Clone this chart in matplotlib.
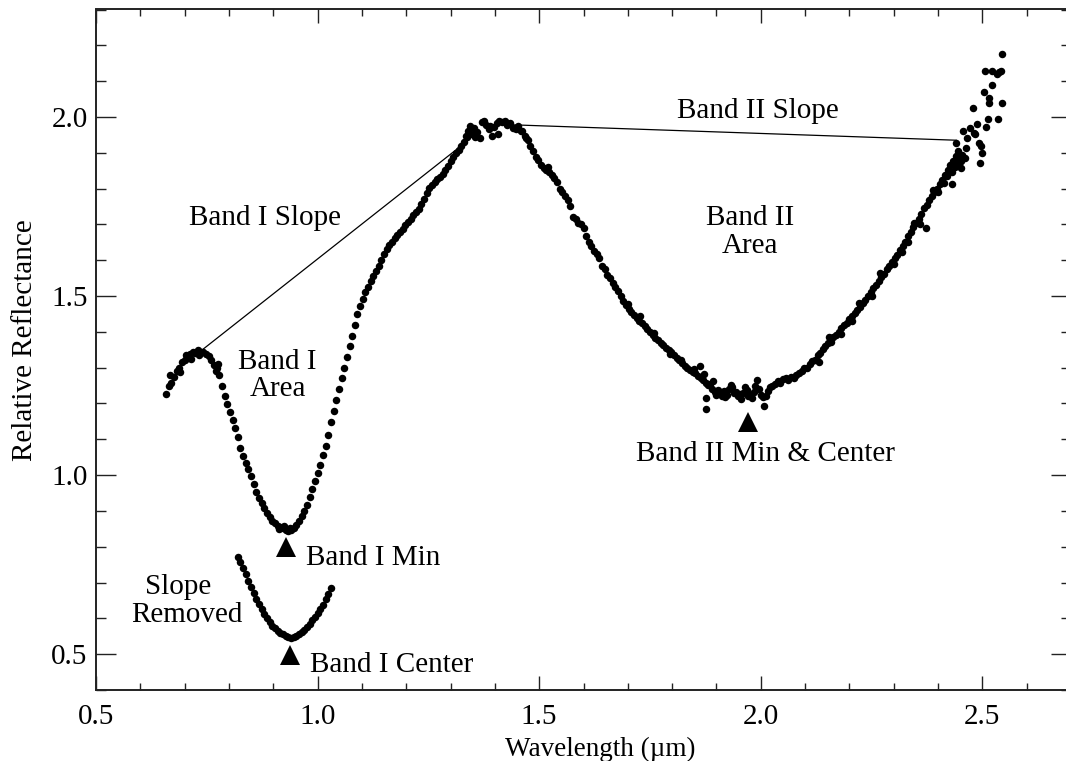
import matplotlib
matplotlib.use("Agg")
from matplotlib import pyplot as plt
from matplotlib.ticker import MultipleLocator

plt.rcParams['font.family'] = ['Liberation Serif', 'DejaVu Serif']

# (wavelength um, relative reflectance) read segment by segment
bump = [(0.658, 1.226), (0.664, 1.250), (0.668, 1.280), (0.670, 1.258), (0.676, 1.275),
        (0.682, 1.290), (0.688, 1.300), (0.690, 1.288), (0.694, 1.315), (0.700, 1.322),
        (0.702, 1.336), (0.706, 1.332), (0.712, 1.338), (0.714, 1.325), (0.718, 1.345),
        (0.724, 1.342), (0.730, 1.348), (0.732, 1.335), (0.736, 1.343), (0.742, 1.345),
        (0.748, 1.338), (0.754, 1.332), (0.760, 1.320), (0.766, 1.308), (0.770, 1.292),
        (0.772, 1.298), (0.776, 1.310), (0.778, 1.280)]

band1_down = [(0.784, 1.250), (0.790, 1.222), (0.796, 1.198), (0.802, 1.177), (0.808, 1.155),
              (0.814, 1.131), (0.820, 1.105), (0.826, 1.077), (0.832, 1.052), (0.838, 1.035),
              (0.844, 1.017), (0.850, 0.997), (0.856, 0.974), (0.862, 0.952), (0.868, 0.937),
              (0.874, 0.922), (0.880, 0.909), (0.886, 0.895), (0.892, 0.883), (0.898, 0.872),
              (0.904, 0.865), (0.910, 0.858), (0.913, 0.850), (0.916, 0.855), (0.922, 0.852),
              (0.925, 0.858), (0.928, 0.848), (0.934, 0.845), (0.937, 0.852), (0.940, 0.848),
              (0.946, 0.852)]

band1_up = [(0.952, 0.860), (0.958, 0.872), (0.964, 0.885), (0.970, 0.899), (0.976, 0.916),
            (0.982, 0.938), (0.988, 0.961), (0.994, 0.983), (1.000, 1.005), (1.006, 1.028),
            (1.012, 1.055), (1.018, 1.082), (1.024, 1.113), (1.030, 1.148), (1.036, 1.180),
            (1.042, 1.210), (1.048, 1.240), (1.054, 1.270), (1.060, 1.300), (1.066, 1.330),
            (1.072, 1.360), (1.078, 1.389), (1.084, 1.419), (1.090, 1.449), (1.096, 1.472),
            (1.102, 1.492), (1.108, 1.511), (1.114, 1.526), (1.120, 1.541), (1.126, 1.556),
            (1.132, 1.570), (1.138, 1.585), (1.144, 1.601), (1.150, 1.616), (1.156, 1.630),
            (1.162, 1.642), (1.168, 1.652), (1.174, 1.661), (1.180, 1.670), (1.186, 1.679),
            (1.192, 1.688), (1.198, 1.697), (1.204, 1.706), (1.210, 1.715), (1.216, 1.725),
            (1.222, 1.735), (1.228, 1.744), (1.234, 1.757), (1.240, 1.772), (1.246, 1.787),
            (1.252, 1.801), (1.258, 1.810), (1.264, 1.818), (1.270, 1.826), (1.276, 1.833),
            (1.282, 1.840), (1.288, 1.852), (1.294, 1.864), (1.300, 1.876), (1.306, 1.888),
            (1.312, 1.898), (1.318, 1.908), (1.324, 1.918), (1.330, 1.930), (1.336, 1.945)]

peak = [(1.335, 1.947), (1.340, 1.962), (1.343, 1.975), (1.346, 1.952), (1.352, 1.968),
        (1.356, 1.945), (1.360, 1.958), (1.366, 1.942), (1.372, 1.985), (1.376, 1.990),
        (1.380, 1.978), (1.386, 1.965), (1.390, 1.975), (1.394, 1.948), (1.398, 1.972),
        (1.404, 1.982), (1.406, 1.952), (1.410, 1.988), (1.416, 1.985), (1.422, 1.990),
        (1.428, 1.978), (1.434, 1.983), (1.440, 1.970), (1.448, 1.966), (1.452, 1.975),
        (1.458, 1.962)]

band2_down = [(1.462, 1.960), (1.468, 1.948), (1.470, 1.942), (1.474, 1.935), (1.480, 1.920),
              (1.486, 1.905), (1.492, 1.888), (1.498, 1.880), (1.504, 1.866), (1.510, 1.858),
              (1.516, 1.852), (1.520, 1.860), (1.522, 1.845), (1.528, 1.838), (1.534, 1.830),
              (1.540, 1.818), (1.546, 1.798), (1.552, 1.790), (1.558, 1.778), (1.564, 1.768),
              (1.570, 1.750), (1.576, 1.722), (1.582, 1.715), (1.588, 1.705), (1.594, 1.700),
              (1.600, 1.690), (1.606, 1.668), (1.612, 1.652), (1.618, 1.640), (1.624, 1.625),
              (1.630, 1.618), (1.636, 1.605), (1.642, 1.585), (1.648, 1.575), (1.654, 1.560),
              (1.660, 1.550), (1.666, 1.535), (1.672, 1.525), (1.678, 1.515), (1.684, 1.500),
              (1.690, 1.486), (1.696, 1.475), (1.700, 1.478), (1.702, 1.465), (1.708, 1.455),
              (1.714, 1.447), (1.720, 1.440), (1.726, 1.430), (1.728, 1.444), (1.732, 1.424),
              (1.738, 1.416), (1.744, 1.408), (1.750, 1.400), (1.756, 1.390), (1.760, 1.398),
              (1.762, 1.383), (1.768, 1.376), (1.774, 1.370), (1.780, 1.362), (1.786, 1.356),
              (1.792, 1.349), (1.795, 1.338), (1.798, 1.343), (1.804, 1.334), (1.810, 1.328),
              (1.816, 1.320), (1.820, 1.322), (1.822, 1.312), (1.828, 1.306), (1.834, 1.300),
              (1.840, 1.294), (1.846, 1.288), (1.850, 1.295), (1.852, 1.284), (1.858, 1.276),
              (1.862, 1.306), (1.864, 1.272), (1.870, 1.266), (1.872, 1.282), (1.876, 1.258),
              (1.877, 1.216), (1.877, 1.184), (1.882, 1.252)]

band2_floor = [(1.886, 1.255), (1.890, 1.240), (1.892, 1.262), (1.896, 1.232), (1.900, 1.225),
               (1.904, 1.238), (1.908, 1.228), (1.912, 1.222), (1.916, 1.236), (1.920, 1.218),
               (1.924, 1.225), (1.928, 1.240), (1.932, 1.252), (1.936, 1.245), (1.940, 1.228),
               (1.944, 1.232), (1.948, 1.220), (1.952, 1.226), (1.956, 1.212), (1.960, 1.230),
               (1.964, 1.245), (1.968, 1.238), (1.972, 1.220), (1.976, 1.225), (1.980, 1.215),
               (1.984, 1.232), (1.988, 1.250), (1.992, 1.266), (1.996, 1.240), (2.000, 1.225),
               (2.004, 1.218), (2.008, 1.192), (2.012, 1.222), (2.016, 1.235), (2.020, 1.245),
               (2.026, 1.250), (2.032, 1.255), (2.038, 1.262), (2.044, 1.258), (2.050, 1.268),
               (2.056, 1.272), (2.062, 1.265), (2.068, 1.275), (2.074, 1.270), (2.080, 1.280),
               (2.086, 1.285), (2.092, 1.290), (2.098, 1.300), (2.104, 1.298), (2.110, 1.310)]

band2_up = [(2.116, 1.318), (2.122, 1.322), (2.128, 1.335), (2.131, 1.315), (2.134, 1.340),
            (2.140, 1.352), (2.146, 1.360), (2.152, 1.368), (2.155, 1.385), (2.158, 1.372),
            (2.164, 1.385), (2.170, 1.392), (2.176, 1.400), (2.180, 1.395), (2.182, 1.410),
            (2.188, 1.418), (2.194, 1.425), (2.200, 1.436), (2.205, 1.430), (2.206, 1.445),
            (2.212, 1.452), (2.218, 1.462), (2.222, 1.480), (2.224, 1.470), (2.230, 1.480),
            (2.236, 1.490), (2.242, 1.500), (2.248, 1.512), (2.250, 1.500), (2.254, 1.522),
            (2.260, 1.530), (2.266, 1.542), (2.270, 1.565), (2.272, 1.552), (2.278, 1.562),
            (2.284, 1.575), (2.290, 1.585), (2.296, 1.595), (2.300, 1.590), (2.302, 1.605),
            (2.308, 1.615), (2.314, 1.628), (2.318, 1.622), (2.320, 1.640), (2.326, 1.652),
            (2.332, 1.668), (2.333, 1.650), (2.338, 1.680), (2.344, 1.692), (2.346, 1.705),
            (2.350, 1.705), (2.356, 1.715), (2.360, 1.700), (2.362, 1.730), (2.368, 1.745),
            (2.372, 1.691), (2.374, 1.755), (2.380, 1.768), (2.386, 1.778), (2.388, 1.795),
            (2.392, 1.790), (2.398, 1.800), (2.400, 1.790), (2.404, 1.812), (2.410, 1.825),
            (2.414, 1.815), (2.416, 1.838), (2.420, 1.835), (2.422, 1.852), (2.428, 1.865),
            (2.431, 1.812), (2.432, 1.845), (2.434, 1.878), (2.438, 1.860), (2.440, 1.890),
            (2.441, 1.928), (2.444, 1.880), (2.446, 1.905), (2.447, 1.868)]

red_tail = [(2.451, 1.877), (2.451, 1.858), (2.454, 1.895), (2.456, 1.961), (2.460, 1.885),
            (2.463, 1.914), (2.466, 1.942), (2.473, 1.970), (2.478, 2.026), (2.481, 1.956),
            (2.484, 1.952), (2.488, 1.980), (2.493, 1.928), (2.494, 1.872), (2.496, 1.919),
            (2.500, 1.900), (2.503, 2.070), (2.506, 2.128), (2.508, 1.972), (2.513, 1.994),
            (2.514, 2.039), (2.516, 2.054), (2.522, 2.088), (2.522, 2.128), (2.534, 2.121),
            (2.536, 1.994), (2.538, 2.125), (2.541, 2.128), (2.545, 2.040), (2.545, 2.175)]

# Band I with the continuum divided out, plotted below the spectrum
slope_removed = [(0.820, 0.772), (0.826, 0.756), (0.832, 0.740), (0.838, 0.723), (0.844, 0.705),
                 (0.850, 0.687), (0.856, 0.670), (0.862, 0.654), (0.868, 0.639), (0.874, 0.625),
                 (0.880, 0.611), (0.886, 0.600), (0.892, 0.589), (0.898, 0.580), (0.904, 0.572),
                 (0.910, 0.566), (0.916, 0.560), (0.922, 0.555), (0.928, 0.551), (0.934, 0.547),
                 (0.940, 0.546), (0.946, 0.548), (0.952, 0.551), (0.958, 0.555), (0.964, 0.561),
                 (0.970, 0.568), (0.976, 0.576), (0.982, 0.585), (0.988, 0.595), (0.994, 0.604),
                 (1.000, 0.614), (1.006, 0.625), (1.012, 0.638), (1.018, 0.653), (1.024, 0.669),
                 (1.030, 0.685)]

# continuum lines (x pair, y pair)
band1_slope_x = [0.740, 1.343]
band1_slope_y = [1.350, 1.938]
band2_slope_x = [1.440, 2.441]
band2_slope_y = [1.978, 1.935]

# band minimum / center markers
band1_min = (0.929, 0.800)
band1_center = (0.938, 0.497)
band2_center = (1.971, 1.148)

spectrum = bump + band1_down + band1_up + peak + band2_down + band2_floor + band2_up + red_tail

fs = 21

fig = plt.figure(figsize=(10.66, 7.61), dpi=100)
ax = fig.add_axes([96 / 1066, 71 / 761, 975 / 1066, 680.5 / 761])

ax.plot(band1_slope_x, band1_slope_y, color='black', lw=0.9)
ax.plot(band2_slope_x, band2_slope_y, color='black', lw=0.9)

ax.plot([p[0] for p in spectrum], [p[1] for p in spectrum], 'o', color='black',
        ms=5.4, mew=0)
ax.plot([p[0] for p in slope_removed], [p[1] for p in slope_removed], 'o', color='black',
        ms=5.4, mew=0)

for pos in (band1_min, band1_center, band2_center):
    ax.plot(pos[0], pos[1], '^', color='black', ms=14.5, mew=0)

ax.set_xlim(0.5, 2.7)
ax.set_ylim(0.4, 2.3)
ax.xaxis.set_major_locator(MultipleLocator(0.5))
ax.xaxis.set_minor_locator(MultipleLocator(0.1))
ax.yaxis.set_major_locator(MultipleLocator(0.5))
ax.yaxis.set_minor_locator(MultipleLocator(0.1))

ax.tick_params(which='both', direction='in', top=True, right=True, labelsize=fs,
               width=1.0, color='#222222')
ax.tick_params(axis='x', which='major', length=10, pad=10)
ax.tick_params(axis='x', which='minor', length=5)
ax.tick_params(axis='y', which='major', length=14.4, pad=6)
ax.tick_params(axis='y', which='minor', length=7.2)
for sp in ax.spines.values():
    sp.set_linewidth(1.4)
    sp.set_color('#222222')

# annotations
ax.text(0.881, 1.699, 'Band I Slope', fontsize=fs, ha='center', va='baseline')
ax.text(0.910, 1.297, 'Band I', fontsize=fs, ha='center', va='baseline')
ax.text(0.910, 1.222, 'Area', fontsize=fs, ha='center', va='baseline')
ax.text(0.974, 0.748, 'Band I Min', fontsize=fs, ha='left', va='baseline')
ax.text(0.686, 0.668, 'Slope', fontsize=fs, ha='center', va='baseline')
ax.text(0.704, 0.590, 'Removed', fontsize=fs, ha='center', va='baseline')
ax.text(0.983, 0.451, 'Band I Center', fontsize=fs, ha='left', va='baseline')
ax.text(1.993, 1.996, 'Band II Slope', fontsize=fs, ha='center', va='baseline')
ax.text(1.975, 1.699, 'Band II', fontsize=fs, ha='center', va='baseline')
ax.text(1.975, 1.620, 'Area', fontsize=fs, ha='center', va='baseline')
ax.text(2.011, 1.038, 'Band II Min & Center', fontsize=fs, ha='center', va='baseline')

fig.text(600 / 1066, 5 / 761, 'Wavelength (\u00b5m)', fontsize=19.5, ha='center', va='baseline')
fig.text(25 / 1066, (761 - 340) / 761, 'Relative Reflectance', fontsize=fs,
         rotation=90, ha='center', va='center')

fig.savefig('out.png', dpi=100)
